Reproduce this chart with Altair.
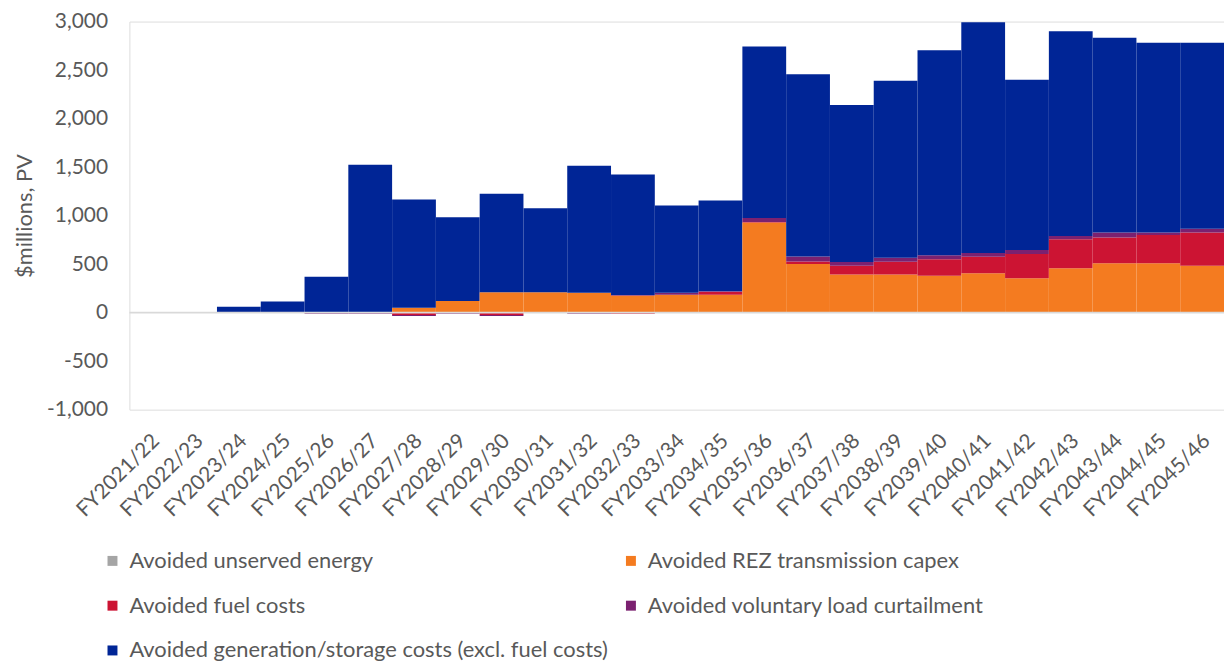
import altair as alt
import pandas as pd

categories = [f"FY{y}/{str(y + 1)[2:]}" for y in range(2021, 2046)]

series_names = [
    "Avoided unserved energy",
    "Avoided REZ transmission capex",
    "Avoided fuel costs",
    "Avoided voluntary load curtailment",
    "Avoided generation/storage costs (excl. fuel costs)",
]
series_colors = ["#A5A5A5", "#F47B20", "#CC1433", "#7B2170", "#002596"]

# top of the positive stack for each year
totals = [0, 0, 60, 115, 370, 1525, 1167, 983, 1225, 1075, 1515, 1423, 1105,
          1155, 2744, 2457, 2140, 2389, 2703, 2993, 2399, 2901, 2833, 2782, 2782]

unserved = [0] * 25
rez = [0, 0, 0, 0, 0, 0, 50, 120, 210, 210, 205, 175, 185, 185, 930, 500,
       392, 392, 379, 406, 355, 458, 509, 509, 484]
fuel_pos = [0, 0, 0, 0, 0, 0, 0, 0, 0, 0, 0, 5, 0, 30, 5, 27, 92, 133, 171,
            171, 249, 297, 266, 290, 342]
vlc_pos = [0, 0, 0, 0, 0, 0, 0, 0, 0, 0, 0, 0, 20, 5, 40, 51, 38, 41, 41, 38,
           41, 34, 51, 27, 38]
fuel_neg = [0, 0, 0, 0, 0, 0, -25, 0, -25, 0, 0, -12, 0, 0, 0, 0, 0, 0, 0, 0,
            0, 0, 0, 0, 0]
vlc_neg = [0, 0, 0, 0, -12, -12, -10, -12, -10, 0, -12, 0, 0, 0, 0, 0, 0, 0,
           0, 0, 0, 0, 0, 0, 0]
generation = [t - r - f - v for t, r, f, v in zip(totals, rez, fuel_pos, vlc_pos)]

rows = []
for i, cat in enumerate(categories):
    parts = [
        (0, unserved[i]),
        (1, rez[i]),
        (2, fuel_pos[i]),
        (2, fuel_neg[i]),
        (3, vlc_pos[i]),
        (3, vlc_neg[i]),
        (4, generation[i]),
    ]
    for k, v in parts:
        rows.append({"category": cat, "series": series_names[k],
                     "order": k, "value": v})
df = pd.DataFrame(rows)

# legend fills column by column: arrange so rows read like the reference
legend_order = [series_names[i] for i in (0, 2, 4, 1, 3)]
legend_colors = [series_colors[i] for i in (0, 2, 4, 1, 3)]

FONT = "Lato"
TXT = "#595959"

bars = alt.Chart(df).mark_bar(strokeWidth=0).encode(
    x=alt.X("category:N", sort=categories,
            scale=alt.Scale(domain=categories, paddingInner=0, paddingOuter=0),
            axis=alt.Axis(title=None, labelAngle=-45, labelAlign="right",
                          labelBaseline="middle", labelPadding=28,
                          labelOffset=5, domain=False, ticks=False,
                          labelOverlap=False, labelFont=FONT,
                          labelFontSize=21, labelColor=TXT)),
    y=alt.Y("value:Q", stack="zero",
            scale=alt.Scale(domain=[-1000, 3000], nice=False),
            axis=alt.Axis(title="$millions, PV", values=list(range(-1000, 3001, 500)),
                          format=",d",
                          labelExpr="replace(datum.label, '\u2212', '-')",
                          domain=False, ticks=False, grid=False,
                          labelPadding=22, labelFont=FONT, labelFontSize=21,
                          labelColor=TXT, titleFont=FONT, titleFontSize=22,
                          titleColor=TXT, titleFontWeight="normal",
                          titlePadding=10)),
    color=alt.Color("series:N",
                    scale=alt.Scale(domain=legend_order, range=legend_colors),
                    legend=alt.Legend(title=None, orient="none", legendX=-28,
                                      legendY=531, columns=2, columnPadding=11,
                                      rowPadding=23, padding=0,
                                      symbolType="square",
                                      symbolSize=100, symbolStrokeWidth=0,
                                      labelOffset=6, labelFont=FONT,
                                      labelFontSize=22, labelColor=TXT,
                                      labelLimit=0)),
    order=alt.Order("order:Q", sort="ascending"),
)

zero_line = alt.Chart(pd.DataFrame({"value": [0]})).mark_rule(
    color="#D9D9D9", strokeWidth=2
).encode(y=alt.Y("value:Q"))

chart = alt.layer(bars, zero_line).properties(
    width=1100,
    height=390,
    autosize=alt.AutoSizeParams(type="none"),
    padding={"left": 122, "top": 12, "right": 0, "bottom": 256},
).configure_view(stroke=None).configure(background="white")

chart.save("out.html", embed_options={"renderer": "svg", "actions": False})
